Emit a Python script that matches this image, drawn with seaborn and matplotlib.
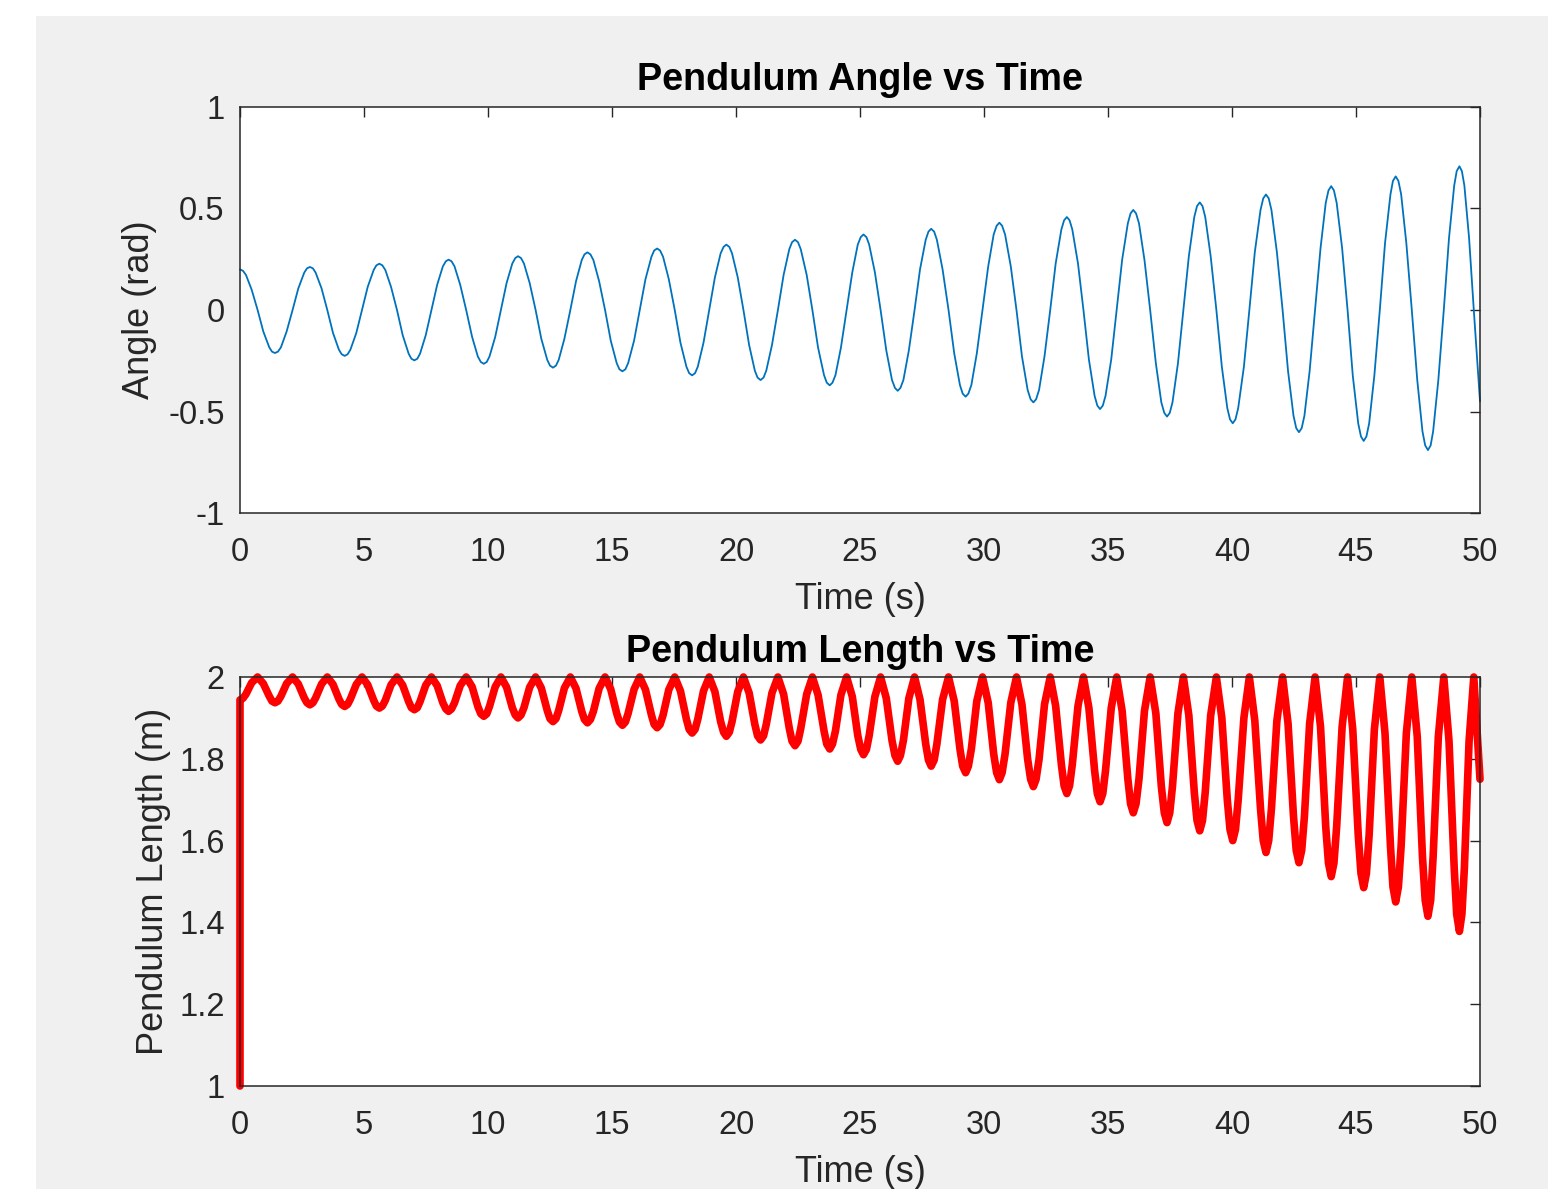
import matplotlib
matplotlib.use("Agg")
import matplotlib.pyplot as plt
import seaborn as sns
from matplotlib.patches import Rectangle

# samples: each row is one half swing,
# starting at a turning point of the angle
time_s = [
    0.00, 0.12, 0.24, 0.47, 0.71, 0.94, 1.18, 1.29,
    1.41, 1.53, 1.65, 1.88, 2.12, 2.35, 2.59, 2.70,
    2.82, 2.94, 3.05, 3.29, 3.52, 3.75, 3.99, 4.10,
    4.22, 4.34, 4.45, 4.69, 4.92, 5.15, 5.39, 5.50,
    5.62, 5.74, 5.86, 6.09, 6.33, 6.56, 6.80, 6.91,
    7.03, 7.15, 7.26, 7.49, 7.72, 7.95, 8.18, 8.30,
    8.41, 8.53, 8.65, 8.88, 9.12, 9.36, 9.59, 9.71,
    9.83, 9.95, 10.06, 10.29, 10.52, 10.75, 10.98, 11.10,
    11.21, 11.33, 11.45, 11.68, 11.92, 12.15, 12.39, 12.50,
    12.62, 12.74, 12.85, 13.08, 13.32, 13.55, 13.78, 13.89,
    14.01, 14.13, 14.25, 14.48, 14.72, 14.95, 15.19, 15.30,
    15.42, 15.54, 15.65, 15.89, 16.12, 16.35, 16.59, 16.70,
    16.82, 16.94, 17.06, 17.29, 17.53, 17.76, 18.00, 18.11,
    18.23, 18.35, 18.46, 18.69, 18.92, 19.15, 19.38, 19.50,
    19.61, 19.73, 19.84, 20.07, 20.30, 20.53, 20.76, 20.87,
    20.99, 21.11, 21.22, 21.45, 21.69, 21.92, 22.15, 22.26,
    22.38, 22.50, 22.61, 22.85, 23.08, 23.31, 23.55, 23.66,
    23.78, 23.89, 24.01, 24.23, 24.46, 24.69, 24.91, 25.03,
    25.14, 25.26, 25.37, 25.60, 25.83, 26.06, 26.29, 26.41,
    26.52, 26.63, 26.75, 26.97, 27.20, 27.42, 27.65, 27.76,
    27.87, 27.99, 28.10, 28.33, 28.57, 28.80, 29.03, 29.14,
    29.26, 29.37, 29.49, 29.71, 29.94, 30.17, 30.39, 30.51,
    30.62, 30.73, 30.85, 31.08, 31.31, 31.53, 31.76, 31.88,
    31.99, 32.10, 32.22, 32.44, 32.67, 32.89, 33.12, 33.23,
    33.34, 33.45, 33.56, 33.79, 34.01, 34.23, 34.46, 34.57,
    34.68, 34.79, 34.90, 35.13, 35.35, 35.57, 35.80, 35.91,
    36.02, 36.13, 36.25, 36.47, 36.70, 36.93, 37.15, 37.27,
    37.38, 37.49, 37.60, 37.82, 38.04, 38.26, 38.48, 38.59,
    38.70, 38.81, 38.92, 39.14, 39.37, 39.59, 39.81, 39.92,
    40.03, 40.14, 40.25, 40.48, 40.70, 40.92, 41.15, 41.26,
    41.37, 41.48, 41.59, 41.81, 42.04, 42.26, 42.48, 42.59,
    42.70, 42.81, 42.92, 43.13, 43.35, 43.57, 43.78, 43.89,
    44.00, 44.11, 44.22, 44.44, 44.66, 44.87, 45.09, 45.20,
    45.31, 45.42, 45.53, 45.74, 45.96, 46.17, 46.39, 46.49,
    46.60, 46.71, 46.82, 47.03, 47.25, 47.47, 47.68, 47.79,
    47.90, 48.01, 48.11, 48.32, 48.54, 48.75, 48.96, 49.06,
    49.17, 49.27, 49.37, 49.56, 49.75, 50.00,
]

angle_rad = [
    0.200, 0.193, 0.173, 0.100, 0.000, -0.106, -0.184, -0.205,
    -0.212, -0.205, -0.184, -0.106, 0.000, 0.106, 0.184, 0.205,
    0.212, 0.205, 0.184, 0.106, 0.000, -0.113, -0.196, -0.218,
    -0.226, -0.218, -0.196, -0.113, 0.000, 0.114, 0.197, 0.220,
    0.228, 0.220, 0.197, 0.114, 0.000, -0.124, -0.215, -0.240,
    -0.248, -0.240, -0.215, -0.124, 0.000, 0.124, 0.215, 0.240,
    0.248, 0.240, 0.215, 0.124, 0.000, -0.133, -0.229, -0.256,
    -0.265, -0.256, -0.229, -0.133, 0.000, 0.133, 0.229, 0.256,
    0.265, 0.256, 0.229, 0.133, 0.000, -0.142, -0.246, -0.274,
    -0.284, -0.274, -0.246, -0.142, 0.000, 0.142, 0.246, 0.274,
    0.284, 0.274, 0.246, 0.142, 0.000, -0.151, -0.262, -0.292,
    -0.302, -0.292, -0.262, -0.151, 0.000, 0.152, 0.262, 0.293,
    0.303, 0.293, 0.262, 0.152, 0.000, -0.161, -0.279, -0.311,
    -0.322, -0.311, -0.279, -0.161, 0.000, 0.161, 0.279, 0.311,
    0.322, 0.311, 0.279, 0.161, 0.000, -0.173, -0.299, -0.333,
    -0.345, -0.333, -0.299, -0.173, 0.000, 0.173, 0.300, 0.334,
    0.346, 0.334, 0.300, 0.173, 0.000, -0.186, -0.321, -0.358,
    -0.371, -0.358, -0.321, -0.186, 0.000, 0.186, 0.322, 0.359,
    0.372, 0.359, 0.322, 0.186, 0.000, -0.199, -0.345, -0.384,
    -0.398, -0.384, -0.345, -0.199, 0.000, 0.200, 0.346, 0.386,
    0.400, 0.386, 0.346, 0.200, 0.000, -0.214, -0.370, -0.412,
    -0.427, -0.412, -0.370, -0.214, 0.000, 0.215, 0.372, 0.415,
    0.430, 0.415, 0.372, 0.215, 0.000, -0.228, -0.394, -0.440,
    -0.455, -0.440, -0.394, -0.228, 0.000, 0.229, 0.397, 0.442,
    0.458, 0.442, 0.397, 0.229, 0.000, -0.244, -0.423, -0.471,
    -0.488, -0.471, -0.423, -0.244, 0.000, 0.247, 0.427, 0.476,
    0.493, 0.476, 0.427, 0.247, 0.000, -0.263, -0.455, -0.507,
    -0.525, -0.507, -0.455, -0.263, 0.000, 0.265, 0.459, 0.512,
    0.530, 0.512, 0.459, 0.265, 0.000, -0.279, -0.483, -0.539,
    -0.558, -0.539, -0.483, -0.279, 0.000, 0.285, 0.493, 0.550,
    0.569, 0.550, 0.493, 0.285, 0.000, -0.301, -0.521, -0.582,
    -0.602, -0.582, -0.521, -0.301, 0.000, 0.305, 0.528, 0.589,
    0.610, 0.589, 0.528, 0.305, 0.000, -0.323, -0.559, -0.623,
    -0.645, -0.623, -0.559, -0.323, 0.000, 0.329, 0.570, 0.636,
    0.658, 0.636, 0.570, 0.329, 0.000, -0.345, -0.598, -0.667,
    -0.690, -0.667, -0.598, -0.345, 0.000, 0.354, 0.613, 0.684,
    0.708, 0.684, 0.613, 0.354, 0.000, -0.450,
]

length_m = [
    1.944, 1.948, 1.958, 1.986, 2.000, 1.984, 1.953, 1.941,
    1.937, 1.941, 1.953, 1.984, 2.000, 1.983, 1.949, 1.937,
    1.932, 1.937, 1.949, 1.983, 2.000, 1.982, 1.946, 1.933,
    1.928, 1.933, 1.946, 1.982, 2.000, 1.981, 1.943, 1.929,
    1.924, 1.929, 1.943, 1.981, 2.000, 1.980, 1.940, 1.925,
    1.920, 1.925, 1.940, 1.980, 2.000, 1.979, 1.937, 1.922,
    1.916, 1.922, 1.937, 1.979, 2.000, 1.976, 1.928, 1.910,
    1.904, 1.910, 1.928, 1.976, 2.000, 1.975, 1.925, 1.907,
    1.900, 1.907, 1.925, 1.975, 2.000, 1.973, 1.918, 1.898,
    1.891, 1.898, 1.918, 1.973, 2.000, 1.972, 1.916, 1.896,
    1.888, 1.896, 1.916, 1.972, 2.000, 1.970, 1.911, 1.890,
    1.882, 1.890, 1.911, 1.970, 2.000, 1.969, 1.907, 1.884,
    1.876, 1.884, 1.907, 1.969, 2.000, 1.966, 1.897, 1.872,
    1.863, 1.872, 1.897, 1.966, 2.000, 1.964, 1.891, 1.865,
    1.855, 1.865, 1.891, 1.964, 2.000, 1.961, 1.884, 1.856,
    1.846, 1.856, 1.884, 1.961, 2.000, 1.958, 1.874, 1.843,
    1.832, 1.843, 1.874, 1.958, 2.000, 1.956, 1.868, 1.836,
    1.824, 1.836, 1.868, 1.956, 2.000, 1.952, 1.857, 1.823,
    1.810, 1.823, 1.857, 1.952, 2.000, 1.948, 1.845, 1.808,
    1.794, 1.808, 1.845, 1.948, 2.000, 1.945, 1.836, 1.797,
    1.782, 1.797, 1.836, 1.945, 2.000, 1.941, 1.824, 1.782,
    1.766, 1.782, 1.824, 1.941, 2.000, 1.937, 1.812, 1.766,
    1.749, 1.766, 1.812, 1.937, 2.000, 1.933, 1.799, 1.750,
    1.732, 1.750, 1.799, 1.933, 2.000, 1.929, 1.786, 1.734,
    1.715, 1.734, 1.786, 1.929, 2.000, 1.924, 1.771, 1.715,
    1.695, 1.715, 1.771, 1.924, 2.000, 1.917, 1.751, 1.690,
    1.668, 1.690, 1.751, 1.917, 2.000, 1.911, 1.733, 1.668,
    1.644, 1.668, 1.733, 1.911, 2.000, 1.906, 1.718, 1.649,
    1.624, 1.649, 1.718, 1.906, 2.000, 1.900, 1.700, 1.627,
    1.600, 1.627, 1.700, 1.900, 2.000, 1.893, 1.678, 1.600,
    1.571, 1.600, 1.678, 1.893, 2.000, 1.886, 1.659, 1.576,
    1.546, 1.576, 1.659, 1.886, 2.000, 1.878, 1.634, 1.545,
    1.512, 1.545, 1.634, 1.878, 2.000, 1.871, 1.614, 1.520,
    1.485, 1.520, 1.614, 1.871, 2.000, 1.862, 1.587, 1.487,
    1.450, 1.487, 1.587, 1.862, 2.000, 1.854, 1.561, 1.454,
    1.415, 1.454, 1.561, 1.854, 2.000, 1.844, 1.533, 1.420,
    1.378, 1.420, 1.533, 1.844, 2.000, 1.750,
]

# the length record starts from 1 m at t = 0 before jumping up
length_time_s = [0.0] + time_s
length_vals = [1.0] + length_m

x_ticks = [0, 5, 10, 15, 20, 25, 30, 35, 40, 45, 50]
angle_ticks = [-1, -0.5, 0, 0.5, 1]
angle_tick_labels = ['-1', '-0.5', '0', '0.5', '1']
length_ticks = [1, 1.2, 1.4, 1.6, 1.8, 2]
length_tick_labels = ['1', '1.2', '1.4', '1.6', '1.8', '2']

sns.set_theme(style="white")
plt.rcParams['font.family'] = ['Liberation Sans', 'DejaVu Sans']
plt.rcParams['axes.unicode_minus'] = False

W, H = 1548, 1189
fig = plt.figure(figsize=(W / 100, H / 100), dpi=100)
fig.patch.set_facecolor('white')
fig.add_artist(Rectangle((36 / W, 0), 1, (H - 16) / H, transform=fig.transFigure,
                         facecolor='#f0f0f0', edgecolor='none', zorder=-5))

ax1 = fig.add_axes([240 / W, 1 - 513 / H, 1240 / W, 406 / H])
ax2 = fig.add_axes([240 / W, 1 - 1086 / H, 1240 / W, 409 / H])

dark = '#262626'


def style_axes(ax, yticks, ylabels, ylim):
    ax.set_facecolor('white')
    ax.set_xlim(0, 50)
    ax.set_ylim(*ylim)
    ax.set_xticks(x_ticks)
    ax.set_yticks(yticks)
    ax.set_yticklabels(ylabels)
    ax.tick_params(direction='in', length=7, width=1, colors=dark,
                   labelsize=23.5, top=True, right=True)
    ax.tick_params(axis='x', pad=17)
    ax.tick_params(axis='y', pad=11)
    for s in ax.spines.values():
        s.set_color(dark)
        s.set_linewidth(1.1)


sns.lineplot(x=time_s, y=angle_rad, ax=ax1, color='#0072BD', linewidth=1.3,
             estimator=None, sort=False)
sns.lineplot(x=length_time_s, y=length_vals, ax=ax2, color='red', linewidth=5.5,
             estimator=None, sort=False)
for ax in (ax1, ax2):
    for ln in ax.lines:
        ln.set_clip_on(False)

style_axes(ax1, angle_ticks, angle_tick_labels, (-1, 1))
style_axes(ax2, length_ticks, length_tick_labels, (1, 2))

ax1.set_title('Pendulum Angle vs Time', fontsize=27.2, fontweight='bold', pad=12, color='black')
ax2.set_title('Pendulum Length vs Time', fontsize=27.2, fontweight='bold', pad=11, color='black')

ax1.set_xlabel('Time (s)', fontsize=26, color=dark, labelpad=10)
ax2.set_xlabel('Time (s)', fontsize=26, color=dark, labelpad=10)
ax1.set_ylabel('Angle (rad)', fontsize=26, color=dark)
ax2.set_ylabel('Pendulum Length (m)', fontsize=26, color=dark)
ax1.yaxis.set_label_coords(-0.067, 0.5)
ax2.yaxis.set_label_coords(-0.056, 0.5)

fig.savefig('out.png', dpi=100, facecolor=fig.get_facecolor())
